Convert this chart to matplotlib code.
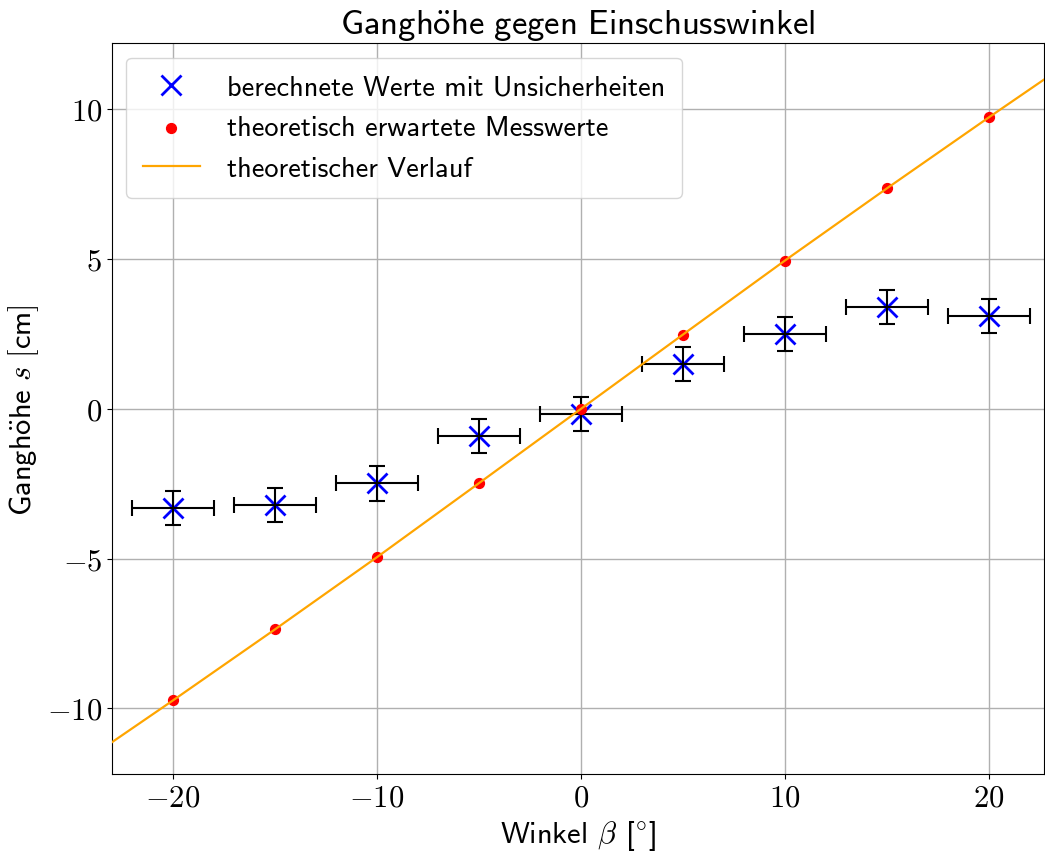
import matplotlib
matplotlib.use("Agg")
import matplotlib.pyplot as plt
from matplotlib.ticker import FuncFormatter

plt.rcParams['mathtext.fontset'] = 'cm'
plt.rcParams['font.family'] = ['cmss10', 'DejaVu Sans']
plt.rcParams['axes.unicode_minus'] = True

# Einschusswinkel in Grad
winkel = [-20, -15, -10, -5, 0, 5, 10, 15, 20]
# berechnete Ganghöhen in cm
s_gemessen = [-3.30, -3.21, -2.49, -0.91, -0.18, 1.49, 2.51, 3.40, 3.11]
s_fehler = [0.57, 0.57, 0.57, 0.57, 0.57, 0.57, 0.57, 0.57, 0.57]
winkel_fehler = [2, 2, 2, 2, 2, 2, 2, 2, 2]
# theoretisch erwartete Werte
s_theorie = [-9.73, -7.36, -4.95, -2.48, 0.0, 2.48, 4.95, 7.36, 9.73]
# theoretischer Verlauf
verlauf_x = [-23, -20, -15, -10, -5, 0, 5, 10, 15, 20, 23]
verlauf_y = [-11.13, -9.73, -7.36, -4.95, -2.48, 0.0, 2.48, 4.95, 7.36, 9.73, 11.13]

fig = plt.figure(figsize=(10.45, 8.53), dpi=100)
ax = fig.add_axes([0.107, 0.091, 0.892, 0.857])

ax.grid(True, color='#b0b0b0', linewidth=1.0, zorder=0)
ax.set_axisbelow(True)

ax.plot(winkel, s_gemessen, 'x', color='blue', markersize=15, markeredgewidth=2,
        label='berechnete Werte mit Unsicherheiten', zorder=3)
ax.errorbar(winkel, s_gemessen, xerr=winkel_fehler, yerr=s_fehler, fmt='none',
            ecolor='black', elinewidth=1.5, capsize=6, capthick=1.5, zorder=4)
ax.scatter(winkel, s_theorie, s=50, color='red', label='theoretisch erwartete Messwerte', zorder=5)
ax.plot(verlauf_x, verlauf_y, color='orange', linewidth=1.6, label='theoretischer Verlauf', zorder=6)

ax.set_xlim(-23.0, 22.7)
ax.set_ylim(-12.2, 12.2)
ax.set_xticks([-20, -10, 0, 10, 20])
ax.set_yticks([-10, -5, 0, 5, 10])

tex_fmt = FuncFormatter(lambda v, pos: r'$%g$' % v if v != 0 else r'$0$')
ax.xaxis.set_major_formatter(tex_fmt)
ax.yaxis.set_major_formatter(tex_fmt)
ax.tick_params(labelsize=22)

ax.set_xlabel(r'Winkel $\beta$ [$^{\circ}$]', fontsize=22)
ax.set_ylabel(r'$\mathsf{Gangh\ddot{o}he}\ s\ \mathsf{[cm]}$', fontsize=22)
ax.set_title(r'$\mathsf{Gangh\ddot{o}he\ gegen\ Einschusswinkel}$', fontsize=25)

ax.legend(loc='upper left', fontsize=20.4, borderpad=0.6, handlelength=2.0,
          handletextpad=0.95, labelspacing=0.55)

fig.savefig('out.png', dpi=100)
